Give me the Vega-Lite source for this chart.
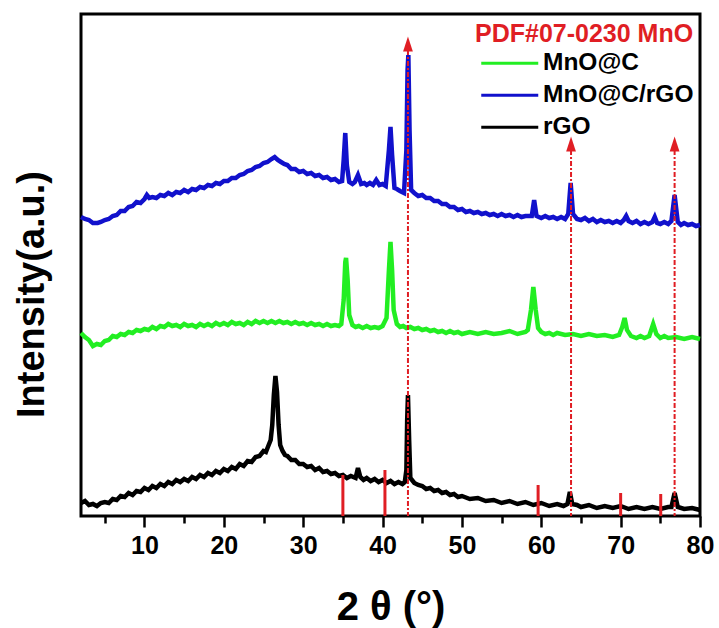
{
  "$schema": "https://vega.github.io/schema/vega-lite/v6.json",
  "width": 619,
  "height": 502,
  "autosize": "none",
  "padding": {"left": 81, "top": 14, "right": 19, "bottom": 112},
  "background": "white",
  "config": {
    "view": {"stroke": "black", "strokeWidth": 3},
    "font": "Liberation Sans"
  },
  "datasets": {
    "traces": [
      {"s":"rGO","x":2.0,"y":13},{"s":"rGO","x":2.5,"y":15},{"s":"rGO","x":3.0,"y":11},{"s":"rGO","x":3.5,"y":12},{"s":"rGO","x":4.0,"y":10},{"s":"rGO","x":4.5,"y":13},{"s":"rGO","x":5.0,"y":14},{"s":"rGO","x":5.5,"y":13},{"s":"rGO","x":6.0,"y":17},{"s":"rGO","x":6.5,"y":16},{"s":"rGO","x":7.0,"y":20},{"s":"rGO","x":7.5,"y":19},{"s":"rGO","x":8.0,"y":23},{"s":"rGO","x":8.5,"y":21},{"s":"rGO","x":9.0,"y":25},{"s":"rGO","x":9.5,"y":24},{"s":"rGO","x":10.0,"y":28},{"s":"rGO","x":10.5,"y":26},{"s":"rGO","x":11.0,"y":30},{"s":"rGO","x":11.5,"y":28},{"s":"rGO","x":12.0,"y":32},{"s":"rGO","x":12.5,"y":30},{"s":"rGO","x":13.0,"y":34},{"s":"rGO","x":13.5,"y":32},{"s":"rGO","x":14.0,"y":36},{"s":"rGO","x":14.5,"y":34},{"s":"rGO","x":15.0,"y":37},{"s":"rGO","x":15.5,"y":35},{"s":"rGO","x":16.0,"y":39},{"s":"rGO","x":16.5,"y":37},{"s":"rGO","x":17.0,"y":41},{"s":"rGO","x":17.5,"y":39},{"s":"rGO","x":18.0,"y":43},{"s":"rGO","x":18.5,"y":41},{"s":"rGO","x":19.0,"y":45},{"s":"rGO","x":19.5,"y":43},{"s":"rGO","x":20.0,"y":47},{"s":"rGO","x":20.5,"y":45},{"s":"rGO","x":21.0,"y":49},{"s":"rGO","x":21.5,"y":47},{"s":"rGO","x":22.0,"y":52},{"s":"rGO","x":22.5,"y":50},{"s":"rGO","x":23.0,"y":55},{"s":"rGO","x":23.5,"y":54},{"s":"rGO","x":24.0,"y":59},{"s":"rGO","x":24.5,"y":60},{"s":"rGO","x":25.0,"y":65},{"s":"rGO","x":25.3,"y":64},{"s":"rGO","x":25.6,"y":70},{"s":"rGO","x":25.9,"y":76},{"s":"rGO","x":26.1,"y":91},{"s":"rGO","x":26.3,"y":121},{"s":"rGO","x":26.5,"y":140},{"s":"rGO","x":26.7,"y":124},{"s":"rGO","x":26.9,"y":91},{"s":"rGO","x":27.1,"y":71},{"s":"rGO","x":27.4,"y":65},{"s":"rGO","x":27.7,"y":61},{"s":"rGO","x":28.0,"y":60},{"s":"rGO","x":28.5,"y":56},{"s":"rGO","x":29.0,"y":56},{"s":"rGO","x":29.5,"y":52},{"s":"rGO","x":30.0,"y":52},{"s":"rGO","x":30.5,"y":49},{"s":"rGO","x":31.0,"y":50},{"s":"rGO","x":31.5,"y":46},{"s":"rGO","x":32.0,"y":48},{"s":"rGO","x":32.5,"y":44},{"s":"rGO","x":33.0,"y":45},{"s":"rGO","x":33.5,"y":42},{"s":"rGO","x":34.0,"y":43},{"s":"rGO","x":34.5,"y":40},{"s":"rGO","x":35.0,"y":41},{"s":"rGO","x":35.5,"y":38},{"s":"rGO","x":36.0,"y":40},{"s":"rGO","x":36.6,"y":38},{"s":"rGO","x":36.9,"y":48},{"s":"rGO","x":37.2,"y":39},{"s":"rGO","x":37.6,"y":36},{"s":"rGO","x":38.0,"y":38},{"s":"rGO","x":38.5,"y":35},{"s":"rGO","x":39.0,"y":37},{"s":"rGO","x":39.5,"y":34},{"s":"rGO","x":40.0,"y":36},{"s":"rGO","x":40.5,"y":33},{"s":"rGO","x":41.0,"y":35},{"s":"rGO","x":41.5,"y":32},{"s":"rGO","x":42.0,"y":34},{"s":"rGO","x":42.5,"y":32},{"s":"rGO","x":42.8,"y":34},{"s":"rGO","x":43.0,"y":46},{"s":"rGO","x":43.1,"y":96},{"s":"rGO","x":43.2,"y":121},{"s":"rGO","x":43.35,"y":76},{"s":"rGO","x":43.5,"y":38},{"s":"rGO","x":44.0,"y":33},{"s":"rGO","x":44.5,"y":31},{"s":"rGO","x":45.0,"y":30},{"s":"rGO","x":45.5,"y":27},{"s":"rGO","x":46.0,"y":28},{"s":"rGO","x":46.5,"y":25},{"s":"rGO","x":47.0,"y":26},{"s":"rGO","x":47.5,"y":23},{"s":"rGO","x":48.0,"y":24},{"s":"rGO","x":48.5,"y":21},{"s":"rGO","x":49.0,"y":22},{"s":"rGO","x":49.5,"y":19},{"s":"rGO","x":50.0,"y":20},{"s":"rGO","x":51.0,"y":17},{"s":"rGO","x":52.0,"y":18},{"s":"rGO","x":53.0,"y":15},{"s":"rGO","x":54.0,"y":16},{"s":"rGO","x":55.0,"y":13},{"s":"rGO","x":56.0,"y":15},{"s":"rGO","x":57.0,"y":12},{"s":"rGO","x":58.0,"y":14},{"s":"rGO","x":59.0,"y":11},{"s":"rGO","x":60.0,"y":13},{"s":"rGO","x":61.0,"y":10},{"s":"rGO","x":62.0,"y":12},{"s":"rGO","x":62.8,"y":10},{"s":"rGO","x":63.3,"y":12},{"s":"rGO","x":63.6,"y":24},{"s":"rGO","x":63.9,"y":12},{"s":"rGO","x":64.5,"y":11},{"s":"rGO","x":65.0,"y":9},{"s":"rGO","x":66.0,"y":11},{"s":"rGO","x":67.0,"y":8},{"s":"rGO","x":68.0,"y":10},{"s":"rGO","x":69.0,"y":8},{"s":"rGO","x":70.0,"y":10},{"s":"rGO","x":71.0,"y":7},{"s":"rGO","x":72.0,"y":9},{"s":"rGO","x":73.0,"y":7},{"s":"rGO","x":74.0,"y":9},{"s":"rGO","x":75.0,"y":7},{"s":"rGO","x":76.0,"y":9},{"s":"rGO","x":76.4,"y":9},{"s":"rGO","x":76.8,"y":23},{"s":"rGO","x":77.2,"y":9},{"s":"rGO","x":78.0,"y":7},{"s":"rGO","x":79.0,"y":8},{"s":"rGO","x":80.0,"y":6},

      {"s":"MnO@C","x":2.0,"y":183},{"s":"MnO@C","x":2.5,"y":179},{"s":"MnO@C","x":3.0,"y":176},{"s":"MnO@C","x":3.5,"y":170},{"s":"MnO@C","x":4.0,"y":172},{"s":"MnO@C","x":4.5,"y":171},{"s":"MnO@C","x":5.0,"y":175},{"s":"MnO@C","x":5.5,"y":176},{"s":"MnO@C","x":6.0,"y":180},{"s":"MnO@C","x":6.5,"y":179},{"s":"MnO@C","x":7.0,"y":182},{"s":"MnO@C","x":7.5,"y":181},{"s":"MnO@C","x":8.0,"y":184},{"s":"MnO@C","x":8.5,"y":183},{"s":"MnO@C","x":9.0,"y":186},{"s":"MnO@C","x":9.5,"y":185},{"s":"MnO@C","x":10.0,"y":187},{"s":"MnO@C","x":10.5,"y":186},{"s":"MnO@C","x":11.0,"y":189},{"s":"MnO@C","x":11.5,"y":187},{"s":"MnO@C","x":12.0,"y":190},{"s":"MnO@C","x":12.5,"y":189},{"s":"MnO@C","x":13.0,"y":192},{"s":"MnO@C","x":13.5,"y":190},{"s":"MnO@C","x":14.0,"y":191},{"s":"MnO@C","x":14.5,"y":189},{"s":"MnO@C","x":15.0,"y":192},{"s":"MnO@C","x":15.5,"y":190},{"s":"MnO@C","x":16.0,"y":191},{"s":"MnO@C","x":16.5,"y":189},{"s":"MnO@C","x":17.0,"y":192},{"s":"MnO@C","x":17.5,"y":190},{"s":"MnO@C","x":18.0,"y":192},{"s":"MnO@C","x":18.5,"y":190},{"s":"MnO@C","x":19.0,"y":193},{"s":"MnO@C","x":19.5,"y":191},{"s":"MnO@C","x":20.0,"y":193},{"s":"MnO@C","x":20.5,"y":191},{"s":"MnO@C","x":21.0,"y":194},{"s":"MnO@C","x":21.5,"y":192},{"s":"MnO@C","x":22.0,"y":193},{"s":"MnO@C","x":22.5,"y":191},{"s":"MnO@C","x":23.0,"y":194},{"s":"MnO@C","x":23.5,"y":192},{"s":"MnO@C","x":24.0,"y":195},{"s":"MnO@C","x":24.5,"y":193},{"s":"MnO@C","x":25.0,"y":195},{"s":"MnO@C","x":25.5,"y":193},{"s":"MnO@C","x":26.0,"y":195},{"s":"MnO@C","x":26.5,"y":193},{"s":"MnO@C","x":27.0,"y":195},{"s":"MnO@C","x":27.5,"y":193},{"s":"MnO@C","x":28.0,"y":194},{"s":"MnO@C","x":28.5,"y":192},{"s":"MnO@C","x":29.0,"y":194},{"s":"MnO@C","x":29.5,"y":192},{"s":"MnO@C","x":30.0,"y":193},{"s":"MnO@C","x":30.5,"y":191},{"s":"MnO@C","x":31.0,"y":193},{"s":"MnO@C","x":31.5,"y":191},{"s":"MnO@C","x":32.0,"y":192},{"s":"MnO@C","x":32.5,"y":190},{"s":"MnO@C","x":33.0,"y":192},{"s":"MnO@C","x":33.5,"y":190},{"s":"MnO@C","x":34.0,"y":191},{"s":"MnO@C","x":34.5,"y":190},{"s":"MnO@C","x":34.8,"y":192},{"s":"MnO@C","x":35.1,"y":216},{"s":"MnO@C","x":35.3,"y":254},{"s":"MnO@C","x":35.4,"y":258},{"s":"MnO@C","x":35.6,"y":236},{"s":"MnO@C","x":35.8,"y":201},{"s":"MnO@C","x":36.2,"y":191},{"s":"MnO@C","x":36.6,"y":189},{"s":"MnO@C","x":37.0,"y":190},{"s":"MnO@C","x":37.5,"y":188},{"s":"MnO@C","x":38.0,"y":190},{"s":"MnO@C","x":38.5,"y":188},{"s":"MnO@C","x":39.0,"y":189},{"s":"MnO@C","x":39.5,"y":188},{"s":"MnO@C","x":40.0,"y":190},{"s":"MnO@C","x":40.5,"y":198},{"s":"MnO@C","x":40.8,"y":246},{"s":"MnO@C","x":41.0,"y":274},{"s":"MnO@C","x":41.2,"y":246},{"s":"MnO@C","x":41.4,"y":206},{"s":"MnO@C","x":41.8,"y":192},{"s":"MnO@C","x":42.2,"y":189},{"s":"MnO@C","x":42.6,"y":190},{"s":"MnO@C","x":43.0,"y":188},{"s":"MnO@C","x":43.5,"y":189},{"s":"MnO@C","x":44.0,"y":187},{"s":"MnO@C","x":44.5,"y":188},{"s":"MnO@C","x":45.0,"y":186},{"s":"MnO@C","x":45.5,"y":187},{"s":"MnO@C","x":46.0,"y":185},{"s":"MnO@C","x":46.5,"y":186},{"s":"MnO@C","x":47.0,"y":184},{"s":"MnO@C","x":47.5,"y":185},{"s":"MnO@C","x":48.0,"y":183},{"s":"MnO@C","x":48.5,"y":185},{"s":"MnO@C","x":49.0,"y":183},{"s":"MnO@C","x":49.5,"y":184},{"s":"MnO@C","x":50.0,"y":182},{"s":"MnO@C","x":51.0,"y":184},{"s":"MnO@C","x":52.0,"y":182},{"s":"MnO@C","x":53.0,"y":184},{"s":"MnO@C","x":54.0,"y":182},{"s":"MnO@C","x":55.0,"y":183},{"s":"MnO@C","x":56.0,"y":185},{"s":"MnO@C","x":57.0,"y":182},{"s":"MnO@C","x":58.0,"y":184},{"s":"MnO@C","x":58.3,"y":186},{"s":"MnO@C","x":58.7,"y":206},{"s":"MnO@C","x":59.0,"y":229},{"s":"MnO@C","x":59.3,"y":206},{"s":"MnO@C","x":59.6,"y":188},{"s":"MnO@C","x":60.0,"y":184},{"s":"MnO@C","x":60.5,"y":182},{"s":"MnO@C","x":61.0,"y":183},{"s":"MnO@C","x":61.5,"y":181},{"s":"MnO@C","x":62.0,"y":183},{"s":"MnO@C","x":63.0,"y":181},{"s":"MnO@C","x":64.0,"y":182},{"s":"MnO@C","x":65.0,"y":180},{"s":"MnO@C","x":66.0,"y":182},{"s":"MnO@C","x":67.0,"y":180},{"s":"MnO@C","x":68.0,"y":181},{"s":"MnO@C","x":69.0,"y":179},{"s":"MnO@C","x":69.8,"y":181},{"s":"MnO@C","x":70.2,"y":189},{"s":"MnO@C","x":70.5,"y":198},{"s":"MnO@C","x":70.8,"y":186},{"s":"MnO@C","x":71.3,"y":180},{"s":"MnO@C","x":72.0,"y":178},{"s":"MnO@C","x":72.5,"y":180},{"s":"MnO@C","x":73.0,"y":178},{"s":"MnO@C","x":73.6,"y":180},{"s":"MnO@C","x":74.1,"y":192},{"s":"MnO@C","x":74.5,"y":182},{"s":"MnO@C","x":75.0,"y":178},{"s":"MnO@C","x":75.5,"y":180},{"s":"MnO@C","x":76.0,"y":178},{"s":"MnO@C","x":77.0,"y":179},{"s":"MnO@C","x":78.0,"y":177},{"s":"MnO@C","x":79.0,"y":179},{"s":"MnO@C","x":80.0,"y":177},

      {"s":"MnO@C/rGO","x":2.0,"y":299},{"s":"MnO@C/rGO","x":2.5,"y":297},{"s":"MnO@C/rGO","x":3.0,"y":296},{"s":"MnO@C/rGO","x":3.5,"y":293},{"s":"MnO@C/rGO","x":4.1,"y":293},{"s":"MnO@C/rGO","x":4.5,"y":294},{"s":"MnO@C/rGO","x":5.0,"y":296},{"s":"MnO@C/rGO","x":5.5,"y":297},{"s":"MnO@C/rGO","x":6.0,"y":300},{"s":"MnO@C/rGO","x":6.5,"y":301},{"s":"MnO@C/rGO","x":7.0,"y":305},{"s":"MnO@C/rGO","x":7.5,"y":305},{"s":"MnO@C/rGO","x":8.0,"y":309},{"s":"MnO@C/rGO","x":8.5,"y":310},{"s":"MnO@C/rGO","x":9.0,"y":314},{"s":"MnO@C/rGO","x":9.5,"y":313},{"s":"MnO@C/rGO","x":10.0,"y":317},{"s":"MnO@C/rGO","x":10.3,"y":321},{"s":"MnO@C/rGO","x":10.6,"y":318},{"s":"MnO@C/rGO","x":11.0,"y":319},{"s":"MnO@C/rGO","x":11.5,"y":318},{"s":"MnO@C/rGO","x":12.0,"y":321},{"s":"MnO@C/rGO","x":12.5,"y":320},{"s":"MnO@C/rGO","x":13.0,"y":323},{"s":"MnO@C/rGO","x":13.5,"y":321},{"s":"MnO@C/rGO","x":14.0,"y":324},{"s":"MnO@C/rGO","x":14.5,"y":323},{"s":"MnO@C/rGO","x":15.0,"y":326},{"s":"MnO@C/rGO","x":15.5,"y":324},{"s":"MnO@C/rGO","x":16.0,"y":327},{"s":"MnO@C/rGO","x":16.5,"y":326},{"s":"MnO@C/rGO","x":17.0,"y":329},{"s":"MnO@C/rGO","x":17.5,"y":328},{"s":"MnO@C/rGO","x":18.0,"y":331},{"s":"MnO@C/rGO","x":18.5,"y":330},{"s":"MnO@C/rGO","x":19.0,"y":333},{"s":"MnO@C/rGO","x":19.5,"y":332},{"s":"MnO@C/rGO","x":20.0,"y":335},{"s":"MnO@C/rGO","x":20.5,"y":335},{"s":"MnO@C/rGO","x":21.0,"y":338},{"s":"MnO@C/rGO","x":21.5,"y":338},{"s":"MnO@C/rGO","x":22.0,"y":341},{"s":"MnO@C/rGO","x":22.5,"y":342},{"s":"MnO@C/rGO","x":23.0,"y":345},{"s":"MnO@C/rGO","x":23.5,"y":346},{"s":"MnO@C/rGO","x":24.0,"y":349},{"s":"MnO@C/rGO","x":24.5,"y":350},{"s":"MnO@C/rGO","x":25.0,"y":353},{"s":"MnO@C/rGO","x":25.5,"y":354},{"s":"MnO@C/rGO","x":26.0,"y":357},{"s":"MnO@C/rGO","x":26.4,"y":359},{"s":"MnO@C/rGO","x":26.8,"y":356},{"s":"MnO@C/rGO","x":27.2,"y":354},{"s":"MnO@C/rGO","x":27.6,"y":352},{"s":"MnO@C/rGO","x":28.0,"y":351},{"s":"MnO@C/rGO","x":28.5,"y":347},{"s":"MnO@C/rGO","x":29.0,"y":347},{"s":"MnO@C/rGO","x":29.5,"y":344},{"s":"MnO@C/rGO","x":30.0,"y":345},{"s":"MnO@C/rGO","x":30.5,"y":342},{"s":"MnO@C/rGO","x":31.0,"y":343},{"s":"MnO@C/rGO","x":31.5,"y":340},{"s":"MnO@C/rGO","x":32.0,"y":341},{"s":"MnO@C/rGO","x":32.5,"y":338},{"s":"MnO@C/rGO","x":33.0,"y":339},{"s":"MnO@C/rGO","x":33.5,"y":336},{"s":"MnO@C/rGO","x":34.0,"y":337},{"s":"MnO@C/rGO","x":34.5,"y":334},{"s":"MnO@C/rGO","x":34.9,"y":335},{"s":"MnO@C/rGO","x":35.1,"y":356},{"s":"MnO@C/rGO","x":35.3,"y":383},{"s":"MnO@C/rGO","x":35.5,"y":351},{"s":"MnO@C/rGO","x":35.8,"y":334},{"s":"MnO@C/rGO","x":36.2,"y":332},{"s":"MnO@C/rGO","x":36.5,"y":334},{"s":"MnO@C/rGO","x":36.9,"y":341},{"s":"MnO@C/rGO","x":37.3,"y":332},{"s":"MnO@C/rGO","x":37.7,"y":333},{"s":"MnO@C/rGO","x":38.0,"y":331},{"s":"MnO@C/rGO","x":38.4,"y":333},{"s":"MnO@C/rGO","x":38.8,"y":331},{"s":"MnO@C/rGO","x":39.2,"y":336},{"s":"MnO@C/rGO","x":39.6,"y":331},{"s":"MnO@C/rGO","x":40.0,"y":332},{"s":"MnO@C/rGO","x":40.4,"y":330},{"s":"MnO@C/rGO","x":40.8,"y":366},{"s":"MnO@C/rGO","x":41.0,"y":389},{"s":"MnO@C/rGO","x":41.2,"y":361},{"s":"MnO@C/rGO","x":41.5,"y":328},{"s":"MnO@C/rGO","x":41.8,"y":327},{"s":"MnO@C/rGO","x":42.2,"y":325},{"s":"MnO@C/rGO","x":42.7,"y":323},{"s":"MnO@C/rGO","x":43.0,"y":366},{"s":"MnO@C/rGO","x":43.15,"y":446},{"s":"MnO@C/rGO","x":43.25,"y":461},{"s":"MnO@C/rGO","x":43.4,"y":386},{"s":"MnO@C/rGO","x":43.6,"y":326},{"s":"MnO@C/rGO","x":44.0,"y":323},{"s":"MnO@C/rGO","x":44.5,"y":320},{"s":"MnO@C/rGO","x":45.0,"y":321},{"s":"MnO@C/rGO","x":45.5,"y":318},{"s":"MnO@C/rGO","x":46.0,"y":318},{"s":"MnO@C/rGO","x":46.5,"y":315},{"s":"MnO@C/rGO","x":47.0,"y":315},{"s":"MnO@C/rGO","x":47.5,"y":312},{"s":"MnO@C/rGO","x":48.0,"y":312},{"s":"MnO@C/rGO","x":48.5,"y":309},{"s":"MnO@C/rGO","x":49.0,"y":309},{"s":"MnO@C/rGO","x":49.5,"y":306},{"s":"MnO@C/rGO","x":50.0,"y":307},{"s":"MnO@C/rGO","x":50.5,"y":304},{"s":"MnO@C/rGO","x":51.0,"y":305},{"s":"MnO@C/rGO","x":51.5,"y":303},{"s":"MnO@C/rGO","x":52.0,"y":304},{"s":"MnO@C/rGO","x":52.5,"y":302},{"s":"MnO@C/rGO","x":53.0,"y":303},{"s":"MnO@C/rGO","x":53.5,"y":301},{"s":"MnO@C/rGO","x":54.0,"y":302},{"s":"MnO@C/rGO","x":54.5,"y":300},{"s":"MnO@C/rGO","x":55.0,"y":302},{"s":"MnO@C/rGO","x":55.5,"y":300},{"s":"MnO@C/rGO","x":56.0,"y":301},{"s":"MnO@C/rGO","x":56.5,"y":299},{"s":"MnO@C/rGO","x":57.0,"y":301},{"s":"MnO@C/rGO","x":57.5,"y":299},{"s":"MnO@C/rGO","x":58.0,"y":300},{"s":"MnO@C/rGO","x":58.8,"y":300},{"s":"MnO@C/rGO","x":59.1,"y":316},{"s":"MnO@C/rGO","x":59.4,"y":300},{"s":"MnO@C/rGO","x":60.0,"y":298},{"s":"MnO@C/rGO","x":60.5,"y":300},{"s":"MnO@C/rGO","x":61.0,"y":298},{"s":"MnO@C/rGO","x":61.5,"y":299},{"s":"MnO@C/rGO","x":62.0,"y":297},{"s":"MnO@C/rGO","x":62.5,"y":299},{"s":"MnO@C/rGO","x":63.0,"y":297},{"s":"MnO@C/rGO","x":63.4,"y":302},{"s":"MnO@C/rGO","x":63.7,"y":333},{"s":"MnO@C/rGO","x":64.0,"y":302},{"s":"MnO@C/rGO","x":64.5,"y":297},{"s":"MnO@C/rGO","x":65.0,"y":296},{"s":"MnO@C/rGO","x":65.5,"y":298},{"s":"MnO@C/rGO","x":66.0,"y":295},{"s":"MnO@C/rGO","x":66.5,"y":297},{"s":"MnO@C/rGO","x":67.0,"y":294},{"s":"MnO@C/rGO","x":67.5,"y":296},{"s":"MnO@C/rGO","x":68.0,"y":294},{"s":"MnO@C/rGO","x":68.5,"y":295},{"s":"MnO@C/rGO","x":69.0,"y":293},{"s":"MnO@C/rGO","x":69.5,"y":295},{"s":"MnO@C/rGO","x":70.0,"y":293},{"s":"MnO@C/rGO","x":70.4,"y":296},{"s":"MnO@C/rGO","x":70.7,"y":300},{"s":"MnO@C/rGO","x":71.0,"y":295},{"s":"MnO@C/rGO","x":71.5,"y":293},{"s":"MnO@C/rGO","x":72.0,"y":295},{"s":"MnO@C/rGO","x":72.5,"y":292},{"s":"MnO@C/rGO","x":73.0,"y":294},{"s":"MnO@C/rGO","x":73.5,"y":292},{"s":"MnO@C/rGO","x":74.0,"y":294},{"s":"MnO@C/rGO","x":74.3,"y":299},{"s":"MnO@C/rGO","x":74.6,"y":293},{"s":"MnO@C/rGO","x":75.0,"y":292},{"s":"MnO@C/rGO","x":75.5,"y":294},{"s":"MnO@C/rGO","x":76.0,"y":292},{"s":"MnO@C/rGO","x":76.4,"y":295},{"s":"MnO@C/rGO","x":76.8,"y":321},{"s":"MnO@C/rGO","x":77.2,"y":294},{"s":"MnO@C/rGO","x":77.6,"y":291},{"s":"MnO@C/rGO","x":78.0,"y":293},{"s":"MnO@C/rGO","x":78.5,"y":291},{"s":"MnO@C/rGO","x":79.0,"y":292},{"s":"MnO@C/rGO","x":79.5,"y":290},{"s":"MnO@C/rGO","x":80.0,"y":291}
    ],
    "bars": [
      {"x": 35.0, "top": 41},
      {"x": 40.3, "top": 46},
      {"x": 59.6, "top": 31},
      {"x": 70.0, "top": 23},
      {"x": 75.05, "top": 22}
    ],
    "arrows": [
      {"x": 43.2, "top": 466, "tip": 472},
      {"x": 63.75, "top": 366, "tip": 372},
      {"x": 76.8, "top": 366, "tip": 372}
    ]
  },
  "layer": [
    {
      "data": {"name": "traces"},
      "mark": {"type": "line", "strokeWidth": 4.5, "interpolate": "linear"},
      "encoding": {
        "x": {
          "field": "x", "type": "quantitative",
          "scale": {"domain": [2, 80], "nice": false, "zero": false},
          "axis": {
            "title": "2 θ (°)",
            "titleFontSize": 40, "titleFontWeight": "bold", "titleColor": "black", "titlePadding": 29,
            "values": [5,10,15,20,25,30,35,40,45,50,55,60,65,70,75,80],
            "labelExpr": "datum.value % 10 === 0 ? datum.label : ''",
            "labelFontSize": 25, "labelFontWeight": "bold", "labelColor": "black",
            "labelPadding": 6, "labelFlush": false, "labelOverlap": false,
            "domain": false, "grid": false,
            "tickColor": "black", "tickWidth": 2.5,
            "tickSize": {"condition": {"test": "datum.value % 10 === 0", "value": 11}, "value": 7}
          }
        },
        "y": {
          "field": "y", "type": "quantitative",
          "scale": {"domain": [0, 502], "nice": false, "zero": false},
          "axis": {
            "title": "Intensity(a.u.)",
            "titleFontSize": 38, "titleFontWeight": "bold", "titleColor": "black", "titlePadding": 30,
            "titleY": 280,
            "labels": false, "ticks": false, "domain": false, "grid": false
          }
        },
        "color": {
          "field": "s", "type": "nominal",
          "scale": {"domain": ["MnO@C", "MnO@C/rGO", "rGO"], "range": ["#22ee22", "#1111cc", "#000000"]},
          "legend": {
            "title": "PDF#07-0230 MnO",
            "titleColor": "#e01e24", "titleFontSize": 25, "titleFontWeight": "bold", "titlePadding": 4, "titleLimit": 400,
            "orient": "none", "legendX": 394, "legendY": 8, "padding": 0,
            "symbolType": "M-4.75,0L4.75,0", "symbolSize": 144, "symbolStrokeWidth": 3, "symbolOffset": 22.5,
            "labelFontSize": 24.5, "labelFontWeight": "bold", "labelColor": "black", "labelOffset": 21, "labelLimit": 300,
            "rowPadding": 7
          }
        }
      }
    },
    {
      "data": {"name": "bars"},
      "mark": {"type": "rule", "color": "#e01e24", "strokeWidth": 3},
      "encoding": {
        "x": {"field": "x", "type": "quantitative"},
        "y": {"field": "top", "type": "quantitative"},
        "y2": {"datum": 0}
      }
    },
    {
      "data": {"name": "arrows"},
      "mark": {"type": "rule", "color": "#e01e24", "strokeWidth": 2, "strokeDash": [5, 2, 2, 2]},
      "encoding": {
        "x": {"field": "x", "type": "quantitative"},
        "y": {"field": "top", "type": "quantitative"},
        "y2": {"datum": 0}
      }
    },
    {
      "data": {"name": "arrows"},
      "mark": {"type": "point", "shape": "M-0.65,1L0,-1L0.65,1Z", "filled": true, "color": "#e01e24", "size": 225, "opacity": 1},
      "encoding": {
        "x": {"field": "x", "type": "quantitative"},
        "y": {"field": "tip", "type": "quantitative"}
      }
    }
  ]
}
